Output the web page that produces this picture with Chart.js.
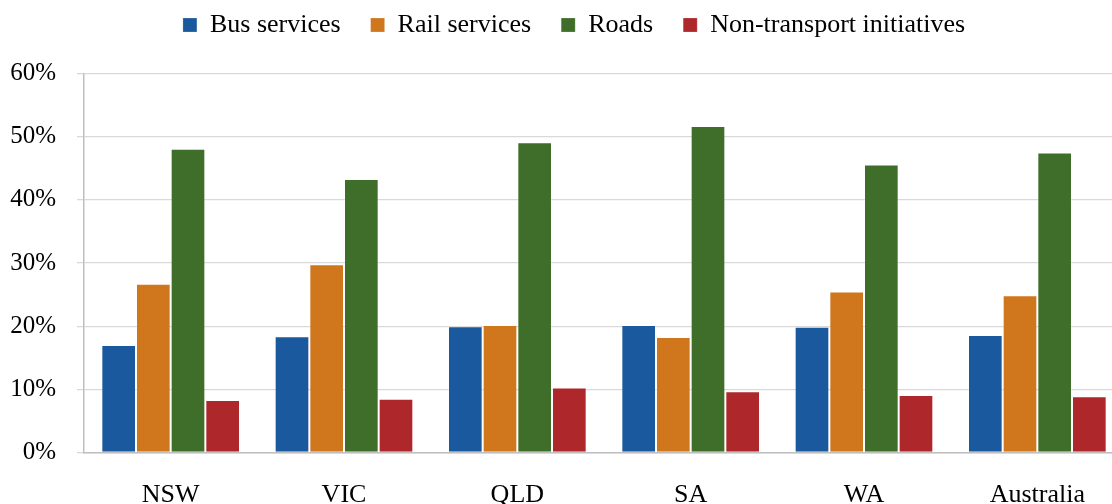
<!DOCTYPE html>
<html>
<head>
<meta charset="utf-8">
<script src="https://cdn.jsdelivr.net/npm/chart.js@4/dist/chart.umd.min.js"></script>
<style>
  body { margin: 0; overflow: hidden; background: #fff; }
  #wrap { width: 1150px; height: 504px; }
</style>
</head>
<body>
<div id="wrap"><canvas id="my-chart" width="1150" height="504"></canvas></div>
<script>
'use strict';

// *** DATA ***

let regions = ['NSW', 'VIC', 'QLD', 'SA', 'WA', 'Australia'];
let busServices = [17.0, 18.4, 20.0, 20.2, 19.9, 18.6];
let railServices = [26.7, 29.8, 20.2, 18.3, 25.5, 24.9];
let roads = [48.1, 43.3, 49.1, 51.7, 45.6, 47.5];
let nonTransport = [8.3, 8.5, 10.3, 9.7, 9.1, 8.9];
let yTicks = [0, 10, 20, 30, 40, 50, 60];

// *** CHART ***

Chart.defaults.font.family = "'Liberation Serif', 'Times New Roman', serif";
Chart.defaults.color = '#000';

let canvasElem = document.getElementById('my-chart');

function makeSet(label, data, color) {
  return {
    label: label,
    data: data,
    backgroundColor: color,
    borderColor: 'rgba(255,255,255,0.2)',
    borderWidth: 1
  };
}

// legend gets a fixed height so the plot starts where it does in the picture,
// and is nudged right to sit centred like the original
let legendPlace = {
  id: 'legendPlace',
  beforeLayout(chart) {
    let lg = chart.legend;
    if (lg && !lg._patched) {
      let origFit = lg.fit;
      lg.fit = function () {
        origFit.call(this);
        this.height = 91.5;
      };
      lg._patched = true;
    }
  },
  afterLayout(chart) {
    let lg = chart.legend;
    if (lg) {
      lg.left += 12;
      lg.right += 12;
    }
  }
};

let myObj = {
  type: 'bar',
  data: {
    labels: regions,
    datasets: [
      makeSet('Bus services', busServices, '#1a599e'),
      makeSet('Rail services', railServices, '#d0771e'),
      makeSet('Roads', roads, '#3e6e29'),
      makeSet('Non-transport initiatives', nonTransport, '#ae272a')
    ]
  },
  options: {
    responsive: false,
    animation: false,
    layout: { padding: { left: 0, right: 26, top: -18, bottom: 0 } },
    datasets: {
      bar: { categoryPercentage: 0.8, barPercentage: 1.0 }
    },
    plugins: {
      tooltip: { enabled: false },
      legend: {
        position: 'top',
        labels: {
          font: { size: 26 },
          boxWidth: 14,
          boxHeight: 14,
          padding: 30,
          color: '#000'
        }
      }
    },
    scales: {
      x: {
        grid: { display: false },
        border: { display: true, color: '#bfbfbf', width: 1.5 },
        ticks: { font: { size: 26 }, padding: 19, color: '#000' },
        afterFit: function (s) { s.height = 51.5; }
      },
      y: {
        min: 0,
        max: 60,
        afterBuildTicks: function (s) { s.ticks = yTicks.map(function (v) { return { value: v }; }); },
        grid: { color: '#d9d9d9', lineWidth: 1.3, tickLength: 7 },
        border: { display: true, color: '#bfbfbf', width: 1.5 },
        ticks: {
          font: { size: 25 },
          padding: 21,
          color: '#000',
          callback: function (v) { return v + '%'; }
        },
        afterFit: function (s) { s.width = 84; }
      }
    }
  },
  plugins: [legendPlace]
};

new Chart(canvasElem, myObj);
</script>
</body>
</html>
